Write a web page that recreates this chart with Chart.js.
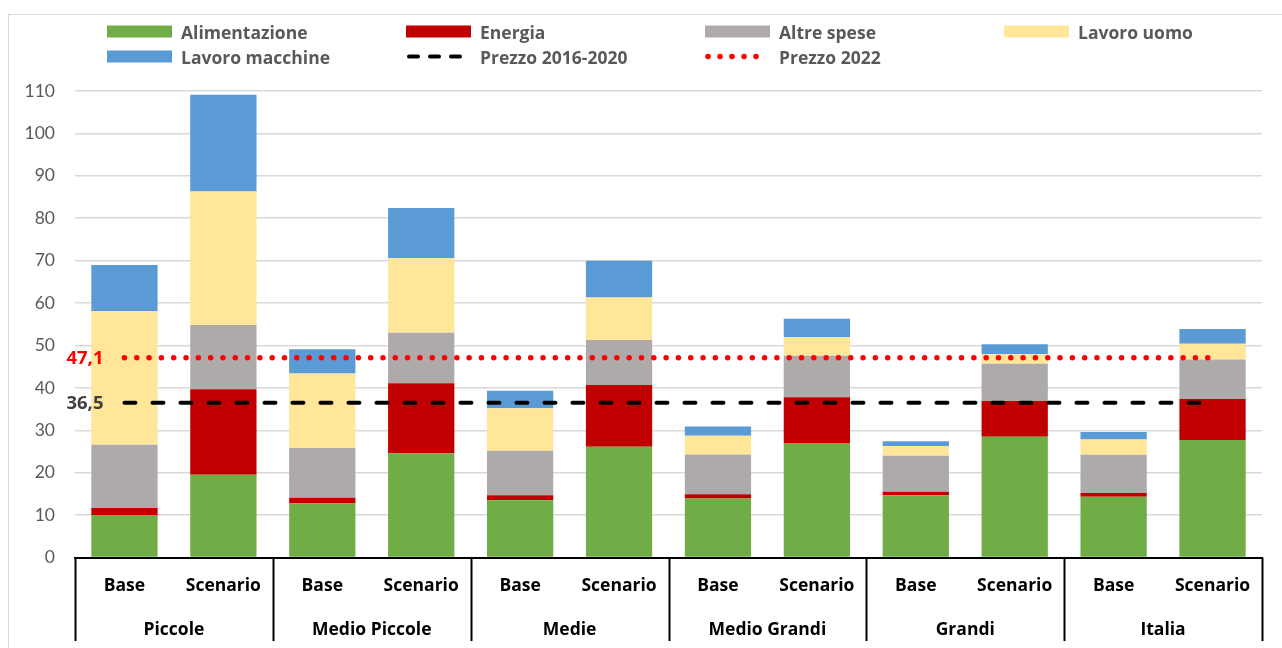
<!DOCTYPE html>
<html lang="it">
<head>
<meta charset="utf-8">
<title>Costi di produzione per classe di allevamento</title>
<script src="https://cdn.jsdelivr.net/npm/chart.js@4.4.1/dist/chart.umd.min.js"></script>
<style>
  html, body { margin:0; padding:0; background:#fff; }
  body { width:1282px; height:648px; overflow:hidden; position:relative; font-family:Lato, "Open Sans", sans-serif; }
  #frame { position:absolute; left:8px; top:14px; width:1300px; height:660px; border:1.5px solid #d9d9d9; box-sizing:border-box; }
  #wrap { position:absolute; left:0; top:0; width:1282px; height:648px; }
  #legend { position:absolute; left:107px; top:19px; display:grid; grid-template-columns:repeat(4, 299px); }
  .lg { display:flex; align-items:center; height:25px; font-family:"Open Sans", sans-serif; font-weight:700; font-size:17.5px; color:#595959; white-space:nowrap; }
  .lg svg { margin-right:9px; flex:none; }
</style>
</head>
<body>
<div id="frame"></div>
<div id="wrap"><canvas id="chartCosti"></canvas></div>
<div id="legend"></div>
<script>
// ---------- DATI ----------
const CATEGORIE = ['Base','Scenario','Base','Scenario','Base','Scenario','Base','Scenario','Base','Scenario','Base','Scenario'];
const GRUPPI    = ['Piccole','Medio Piccole','Medie','Medio Grandi','Grandi','Italia'];

const alimentazione  = [10.0, 19.5, 12.8, 24.6, 13.5, 26.1, 13.9, 27.0, 14.7, 28.5, 14.3, 27.7];
const energia        = [ 1.7, 20.2,  1.3, 16.5,  1.2, 14.6,  1.0, 10.8,  0.8,  8.4,  0.9,  9.7];
const altreSpese     = [14.9, 15.1, 11.7, 11.9, 10.5, 10.6,  9.4,  9.8,  8.5,  8.8,  9.0,  9.3];
const lavoroUomo     = [31.5, 31.5, 17.6, 17.6, 10.0, 10.0,  4.4,  4.4,  2.3,  2.2,  3.6,  3.7];
const lavoroMacchine = [10.9, 22.8,  5.7, 11.8,  4.1,  8.7,  2.2,  4.3,  1.1,  2.4,  1.8,  3.5];

const PREZZO_2016_2020 = 36.5;
const PREZZO_2022      = 47.1;

// ---------- UTIL ----------
const FONT_BOLD = '700 17.5px "Open Sans", sans-serif';
const FONT_PREZZI = '700 18.5px "Open Sans", sans-serif';
const fmtIt = v => v.toFixed(1).replace('.', ',');
const costante = v => CATEGORIE.map(() => v);

const barra = (label, data, color) => ({
  type:'bar', label, data, backgroundColor:color, stack:'costi', order:2,
  barPercentage:0.67, categoryPercentage:1
});

const linea = (label, valore, color, dash, width, textColor, stack) => ({
  type:'line', label, data:costante(valore), borderColor:color, borderWidth:width,
  borderDash:dash, borderCapStyle:'round', pointRadius:0, fill:false, stack, order:0,
  etichetta:fmtIt(valore), coloreEtichetta:textColor
});

// ---------- PLUGIN: asse a gruppi + etichette prezzi ----------
const asseGruppi = {
  id:'asseGruppi',
  afterDraw(chart){
    const { ctx, chartArea } = chart;
    const x = chart.scales.x;
    ctx.save();

    // divisori tra i gruppi
    const bordi = [x.left];
    for (let g = 1; g < GRUPPI.length; g++){
      bordi.push((x.getPixelForValue(2*g - 1) + x.getPixelForValue(2*g)) / 2);
    }
    bordi.push(x.right);
    ctx.strokeStyle = '#000';
    ctx.lineWidth = 2;
    ctx.beginPath();
    for (const bx of bordi){
      ctx.moveTo(Math.round(bx) + 0.5, chartArea.bottom);
      ctx.lineTo(Math.round(bx) + 0.5, 641);
    }
    ctx.stroke();

    // nomi dei gruppi
    ctx.fillStyle = '#000';
    ctx.font = FONT_BOLD;
    ctx.textAlign = 'center';
    ctx.textBaseline = 'middle';
    GRUPPI.forEach((g, i) => ctx.fillText(g, (bordi[i] + bordi[i+1]) / 2, 630));

    // valori delle linee di prezzo
    ctx.font = FONT_PREZZI;
    ctx.textAlign = 'right';
    chart.data.datasets.forEach((ds, i) => {
      if (!ds.etichetta) return;
      const p = chart.getDatasetMeta(i).data[0];
      if (!p) return;
      ctx.fillStyle = ds.coloreEtichetta;
      ctx.fillText(ds.etichetta, p.x - 21, p.y + 1);
    });
    ctx.restore();
  }
};

// ---------- CHART ----------
Chart.defaults.font.family = 'Lato, "Open Sans", sans-serif';

const chart = new Chart(document.getElementById('chartCosti'), {
  data:{
    labels:CATEGORIE,
    datasets:[
      barra('Alimentazione',   alimentazione,  '#70ad47'),
      barra('Energia',         energia,        '#c00000'),
      barra('Altre spese',     altreSpese,     '#aeaaaa'),
      barra('Lavoro uomo',     lavoroUomo,     '#ffe699'),
      barra('Lavoro macchine', lavoroMacchine, '#5b9bd5'),
      linea('Prezzo 2016-2020', PREZZO_2016_2020, '#000000', [11, 17], 4, '#404040', 'p1'),
      linea('Prezzo 2022',      PREZZO_2022,      '#ff0000', [0.01, 12.3], 5.5, '#ff0000', 'p2')
    ]
  },
  options:{
    responsive:true,
    maintainAspectRatio:false,
    animation:false,
    layout:{ padding:{ top:91, right:20, left:0, bottom:0 } },
    plugins:{ legend:{ display:false }, tooltip:{ enabled:false } },
    scales:{
      x:{
        stacked:true,
        offset:true,
        grid:{ display:false, drawTicks:false },
        border:{ display:true, color:'#000', width:2 },
        ticks:{ color:'#000', padding:18, font:{ family:'"Open Sans", sans-serif', size:17.5, weight:'700' }, maxRotation:0 },
        afterFit(scale){ scale.height = 90.5; }
      },
      y:{
        stacked:true,
        min:0, max:110,
        grid:{ color:'#d9d9d9', lineWidth:1.5, drawTicks:false },
        border:{ display:false },
        ticks:{ stepSize:10, color:'#595959', padding:20, font:{ size:17.5 } },
        afterFit(scale){ scale.width = 75; }
      }
    }
  },
  plugins:[asseGruppi]
});

// ---------- LEGENDA ----------
function campione(ds){
  if (ds.type === 'bar'){
    return `<svg width="65" height="13"><rect x="0" y="0.5" width="65" height="12" fill="${ds.backgroundColor}"/></svg>`;
  }
  const dash = ds.borderDash[0] < 1 ? '0.01 12' : '9 12';
  return `<svg width="65" height="13"><line x1="3" y1="6.5" x2="62" y2="6.5" stroke="${ds.borderColor}" stroke-width="${ds.borderWidth}" stroke-linecap="round" stroke-dasharray="${dash}"/></svg>`;
}
document.getElementById('legend').innerHTML = chart.data.datasets
  .map(ds => `<div class="lg">${campione(ds)}<span>${ds.label}</span></div>`).join('');
</script>
</body>
</html>
